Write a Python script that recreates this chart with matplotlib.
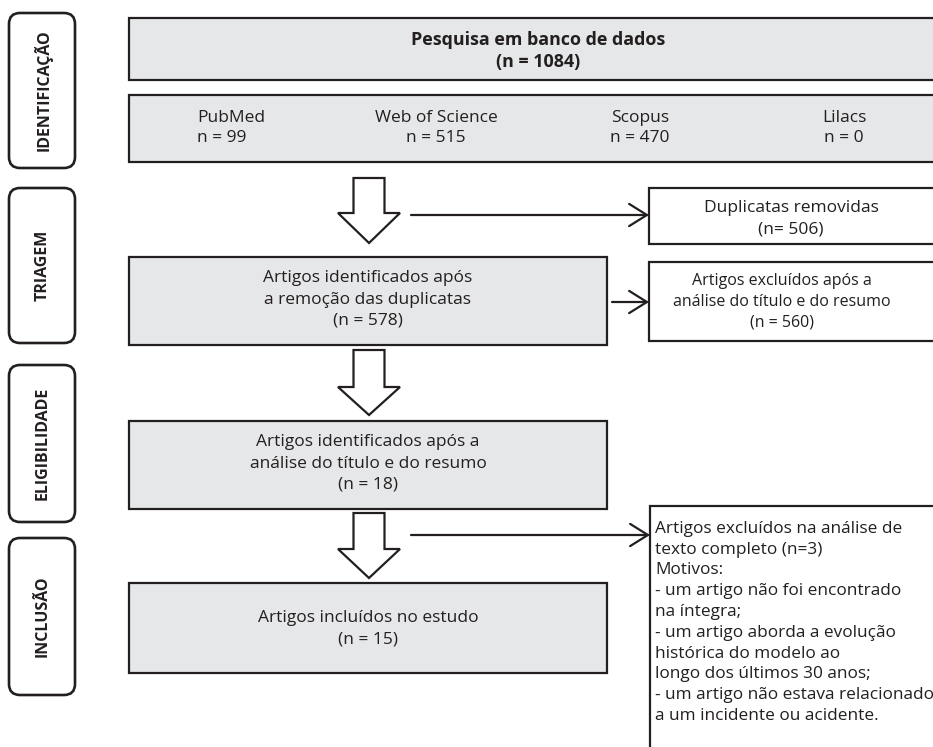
import matplotlib
matplotlib.use("Agg")
import matplotlib.pyplot as plt
from matplotlib.patches import Rectangle, FancyBboxPatch, Polygon, FancyArrowPatch

plt.rcParams['font.family'] = ['Open Sans', 'DejaVu Sans']

# ---- data ----
side_labels = ["IDENTIFICAÇÃO", "TRIAGEM", "ELIGIBILIDADE", "INCLUSÃO"]
total_label = "Pesquisa em banco de dados"
total_n = 1084
sources = ["PubMed", "Web of Science", "Scopus", "Lilacs"]
source_n = [99, 515, 470, 0]
duplicates_label = "Duplicatas removidas"
duplicates_n = 506
after_dup_label = ["Artigos identificados após", "a remoção das duplicatas"]
after_dup_n = 578
excl_title_label = ["Artigos excluídos após a", "análise do título e do resumo"]
excl_title_n = 560
eligible_label = ["Artigos identificados após a", "análise do título e do resumo"]
eligible_n = 18
included_label = "Artigos incluídos no estudo"
included_n = 15
excl_full_label = ["Artigos excluídos na análise de", "texto completo"]
excl_full_n = 3
reasons_title = "Motivos:"
reasons = ["- um artigo não foi encontrado", "na íntegra;",
           "- um artigo aborda a evolução", "histórica do modelo ao",
           "longo dos últimos 30 anos;",
           "- um artigo não estava relacionado", "a um incidente ou acidente."]

# ---- style ----
GRAY = "#e6e7e8"
EDGE = "#231f20"
TXT = "#231f20"
FS = 12.5
LW = 1.6

fig = plt.figure(figsize=(9.33, 7.47), dpi=100)
ax = fig.add_axes([0, 0, 1, 1])
ax.set_xlim(0, 933)
ax.set_ylim(747, 0)
ax.axis("off")


def box(x0, y0, x1, y1, fill):
    ax.add_patch(Rectangle((x0, y0), x1 - x0, y1 - y0, facecolor=fill,
                           edgecolor=EDGE, lw=LW, zorder=2, clip_on=True))


def text(x, y, s, **kw):
    opts = dict(ha="center", va="center", fontsize=FS, color=TXT, zorder=3,
                linespacing=1.42)
    opts.update(kw)
    ax.text(x, y, s, **opts)


# side phase boxes
side_y = [(13, 168), (188, 343), (365, 522), (538, 695)]
for lab, (y0, y1) in zip(side_labels, side_y):
    ax.add_patch(FancyBboxPatch((9, y0), 66, y1 - y0,
                                boxstyle="round,pad=0,rounding_size=11",
                                facecolor="white", edgecolor=EDGE, lw=LW + 0.3, zorder=2))
    text(43, (y0 + y1) / 2, lab, rotation=90, fontsize=11.5, fontweight="bold")

# top boxes
box(129, 18, 948, 80, GRAY)
text(538, 51, f"{total_label}\n(n = {total_n})", fontweight="bold", fontsize=12.9,
     linespacing=1.33)

box(129, 95, 948, 162, GRAY)
src_x = [231, 436, 640, 844]
src_ma = ["left", "center", "center", "center"]
for s, n, x, ma in zip(sources, source_n, src_x, src_ma):
    text(x, 128, f"{s}\nn = {n}", multialignment=ma, linespacing=1.25)

# duplicates box
box(649, 188, 948, 244, "white")
text(791, 218.5, f"{duplicates_label}\n(n= {duplicates_n})", linespacing=1.42)

# after duplicates
box(129, 257, 607, 345, GRAY)
text(368, 299.5, "\n".join(after_dup_label) + f"\n(n = {after_dup_n})")

# excluded title
box(649, 262, 948, 341, "white")
text(782, 302, "\n".join(excl_title_label) + f"\n(n = {excl_title_n})",
     linespacing=1.38, fontsize=11.5)

# eligible
box(129, 421, 607, 509, GRAY)
text(368, 463.5, "\n".join(eligible_label) + f"\n(n = {eligible_n})")

# included
box(129, 583, 607, 673, GRAY)
text(368, 629, f"{included_label}\n(n = {included_n})")

# excluded full text
box(650, 506, 948, 760, "white")
full_lines = [excl_full_label[0], f"{excl_full_label[1]} (n={excl_full_n})",
              reasons_title] + reasons
ax.text(655, 622.5, "\n".join(full_lines), ha="left", va="center", fontsize=12.4,
        color=TXT, linespacing=1.4, zorder=3)


# hollow down arrows
def down_arrow(cx, top, base, tip):
    sw, hw = 15.5, 31
    pts = [(cx - sw, top), (cx + sw, top), (cx + sw, base), (cx + hw, base),
           (cx, tip), (cx - hw, base), (cx - sw, base)]
    ax.add_patch(Polygon(pts, closed=True, facecolor="white", edgecolor=EDGE,
                         lw=LW, joinstyle="miter", zorder=2))


down_arrow(369, 178, 213, 243)
down_arrow(369, 350, 387, 415)
down_arrow(369, 513, 549, 578)


# horizontal arrows
def h_arrow(x0, x1, y):
    ax.add_patch(FancyArrowPatch((x0, y), (x1, y), arrowstyle="->,head_length=8,head_width=5",
                                 color=EDGE, lw=LW, shrinkA=0, shrinkB=0,
                                 mutation_scale=1.6, zorder=3))


h_arrow(411, 649, 215)
h_arrow(612, 649, 302)
h_arrow(411, 650, 535)

fig.savefig("out.png", dpi=100, facecolor="white")
